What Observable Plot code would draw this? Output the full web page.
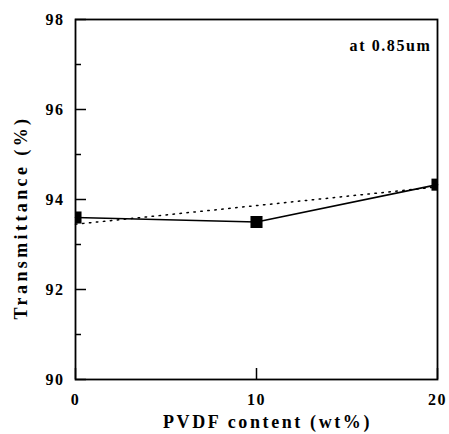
<!DOCTYPE html>
<html><head><meta charset="utf-8">
<script src="https://cdn.jsdelivr.net/npm/d3@7"></script>
<script src="https://cdn.jsdelivr.net/npm/@observablehq/plot@0.6"></script>
<style>
body{margin:0;background:#fff}
</style>
</head><body><div id="chart"></div>
<script>
const pvdf = [0, 10, 20];
const transmittance = [93.6, 93.5, 94.33];
const fitX = [0, 20];
const fitY = [93.45, 94.28];
const xTicks = [0, 10, 20];
const yTicks = [90, 92, 94, 96, 98];
const yMinor = [91, 93, 95, 97];
const xTitle = ["PVDF content (wt%)"];
const yTitle = ["Transmittance (%)"];
const note = ["at 0.85um"];

const W = 449, H = 434, mL = 75, mR = 12, mT = 19, mB = 55;
const fw = W - mL - mR, fh = H - mT - mB;
const pts = pvdf.map((x, i) => ({x, y: transmittance[i]}));
const fit = fitX.map((x, i) => ({x, y: fitY[i]}));

const chart = Plot.plot({
  width: W, height: H,
  marginLeft: mL, marginRight: mR, marginTop: mT, marginBottom: mB,
  style: {fontFamily: "'Liberation Serif', 'Times New Roman', serif", fontWeight: "bold", fontSize: "16px", color: "#000", background: "#fff"},
  x: {domain: [0, 20], ticks: xTicks, tickSize: 0, tickPadding: 14, label: null},
  y: {domain: [90, 98], ticks: yTicks, tickSize: 0, tickPadding: 11, label: null},
  marks: [
    Plot.tickY(yTicks, {y: d => d, insetRight: fw - 11, stroke: "#000", strokeWidth: 1.5}),
    Plot.tickY(yMinor, {y: d => d, insetRight: fw - 6, stroke: "#000", strokeWidth: 1.5}),
    Plot.tickX(xTicks, {x: d => d, insetTop: fh - 11, stroke: "#000", strokeWidth: 1.5}),
    Plot.line(fit, {x: "x", y: "y", stroke: "#000", strokeWidth: 1.5, strokeDasharray: "1.5,5.5"}),
    Plot.line(pts, {x: "x", y: "y", stroke: "#000", strokeWidth: 1.6}),
    Plot.dot(pts, {x: "x", y: "y", symbol: "square", r: 6.8, fill: "#000", stroke: null, clip: true}),
    Plot.frame({stroke: "#000", strokeWidth: 1.8}),
    Plot.text(note, {frameAnchor: "top-right", text: d => d, dx: -6, dy: 20, textAnchor: "end", fontSize: 16, fontWeight: "bold", fill: "#000"}),
    Plot.text(xTitle, {frameAnchor: "bottom", text: d => d, dx: 11, dy: 48, textAnchor: "middle", fontSize: 18, fontWeight: "bold", fill: "#000"}),
    Plot.text(yTitle, {frameAnchor: "left", text: d => d, dx: -54, dy: 18, textAnchor: "middle", rotate: -90, fontSize: 18, fontWeight: "bold", fill: "#000"})
  ]
});
d3.select(chart).selectAll("text").each(function() {
  const t = this.textContent;
  let ls = null;
  if (t === xTitle[0]) ls = "2.6px";
  else if (t === yTitle[0]) ls = "3.4px";
  else if (t === note[0]) ls = "1.6px";
  else if (/^\d+$/.test(t)) ls = "1.5px";
  if (ls) { this.style.letterSpacing = ls; this.setAttribute("letter-spacing", ls); }
});
document.getElementById("chart").appendChild(chart);
</script>
</body></html>
